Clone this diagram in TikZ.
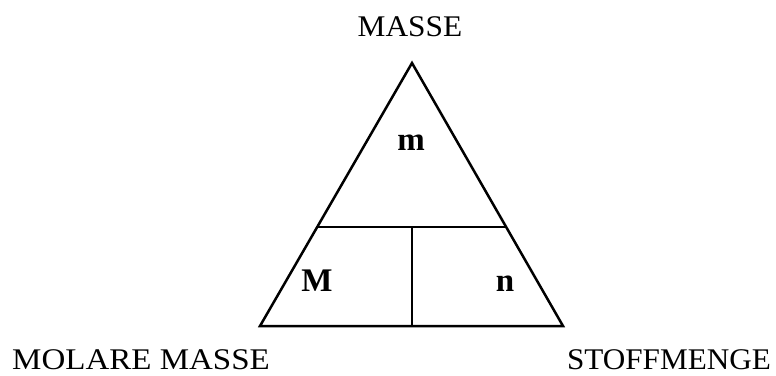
\documentclass[tikz,border=0pt]{standalone}
\usepackage{fontspec}
\setmainfont{Liberation Serif}
\usetikzlibrary{calc}
\begin{document}
\begin{tikzpicture}[x=1pt,y=-1pt,
  lbl/.style={font=\fontsize{30}{34}\selectfont, anchor=base, xscale=1.1, inner sep=0pt},
  sym/.style={font=\fontsize{33}{36}\selectfont\bfseries, anchor=base, inner sep=0pt},
  edge/.style={line width=2.5pt, line join=miter}]
\useasboundingbox (0,0) rectangle (776,375);
\coordinate (A) at (412,63);
\coordinate (L) at (260,326);
\coordinate (R) at (563,326);
\coordinate (HL) at ($(A)!0.6236!(L)$);
\coordinate (HR) at ($(A)!0.6236!(R)$);
\coordinate (VT) at (412,227);
\coordinate (VB) at (412,326);
\draw[edge] (A) -- (L) -- (R) -- cycle;
\draw[edge] (HL) -- (HR);
\draw[edge] (VT) -- (VB);
\node[lbl, xscale=0.95] (masse) at (410,36) {MASSE};
\node[lbl] (molar) at (141,369) {MOLARE MASSE};
\node[lbl, xscale=0.945] (stoff) at (669,369) {STOFFMENGE};
\node[sym] (m) at (411,150) {m};
\node[sym] (M) at (317,291) {M};
\node[sym] (n) at (505,291) {n};
\end{tikzpicture}
\end{document}
